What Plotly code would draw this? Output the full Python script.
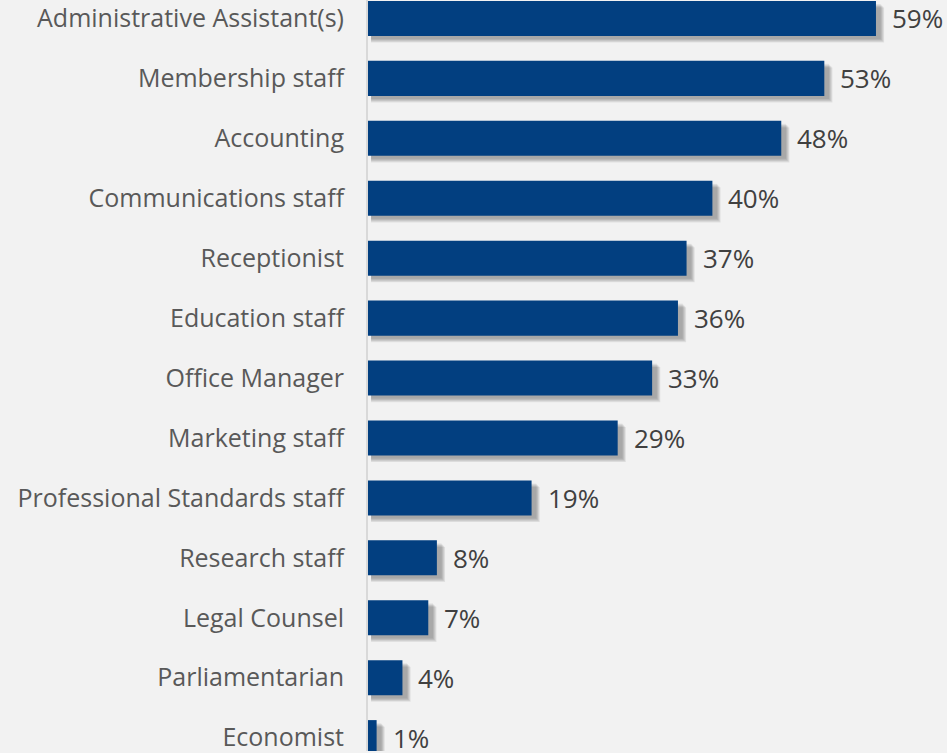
import plotly.graph_objects as go

# Share of respondents reporting each staff role
roles = [
    "Administrative Assistant(s)",
    "Membership staff",
    "Accounting",
    "Communications staff",
    "Receptionist",
    "Education staff",
    "Office Manager",
    "Marketing staff",
    "Professional Standards staff",
    "Research staff",
    "Legal Counsel",
    "Parliamentarian",
    "Economist",
]
shares = [59, 53, 48, 40, 37, 36, 33, 29, 19, 8, 7, 4, 1]

BAR_COLOR = "#023f80"
BG = "#f2f2f2"
FONT = "Open Sans"
BAR_W = 0.585

fig = go.Figure()

# soft drop shadow: stacked translucent layers, shifted right and down
shadow_layers = [(0.6, 0.11, 0.07), (0.5, 0.095, 0.07), (0.4, 0.08, 0.07), (0.3, 0.065, 0.07), (0.2, 0.05, 0.06)]
for dx, dy, op in shadow_layers:
    fig.add_trace(go.Bar(
        y=roles, x=[v + dx for v in shares], base=0.35,
        orientation="h", width=BAR_W, offset=-BAR_W / 2 + dy,
        marker=dict(color=f"rgba(0,0,0,{op})", line=dict(width=0)),
        hoverinfo="skip", showlegend=False,
    ))

fig.add_trace(go.Bar(
    y=roles, x=shares, orientation="h", width=BAR_W, offset=-BAR_W / 2,
    marker=dict(color=BAR_COLOR, line=dict(width=0)),
    showlegend=False,
))

for r, v in zip(roles, shares):
    fig.add_annotation(
        x=v, y=r, text=f"{v}%", showarrow=False, xanchor="left", yanchor="middle",
        xshift=14, font=dict(family=FONT, size=26, color="#404040"),
    )

fig.update_layout(
    width=947, height=753,
    margin=dict(l=368, r=0, t=0, b=0),
    paper_bgcolor=BG, plot_bgcolor=BG,
    barmode="overlay",
    font=dict(family=FONT),
    xaxis=dict(range=[0, 67.25], visible=False, fixedrange=True),
    yaxis=dict(
        type="category", categoryorder="array", categoryarray=roles,
        range=[12.223, -0.308], showline=True, linecolor="#d9d9d9", linewidth=2,
        showgrid=False, ticks="", ticklabelstandoff=17,
        tickfont=dict(family=FONT, size=25, color="#595959"),
    ),
)

fig.write_html("out.html")
